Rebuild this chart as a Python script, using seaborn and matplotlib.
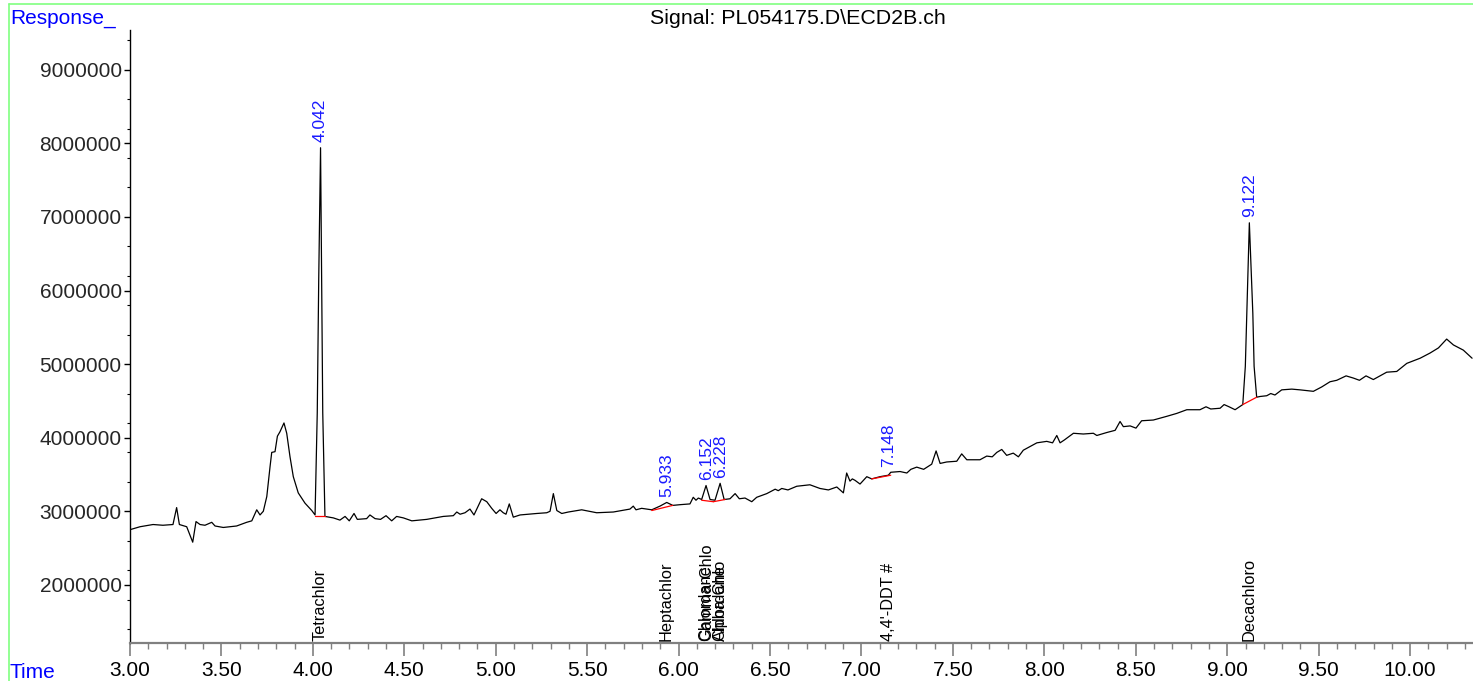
import numpy as np
import pandas as pd
import matplotlib
matplotlib.use("Agg")
import matplotlib.pyplot as plt
from matplotlib.ticker import MultipleLocator, FixedLocator, FuncFormatter
from matplotlib.lines import Line2D
import seaborn as sns

# ---------------- data ----------------
# retention time (min)
time_min = [
    3.000, 3.055, 3.126, 3.180, 3.235, 3.255, 3.270, 3.310, 3.343, 3.361,
    3.383, 3.410, 3.447, 3.465, 3.510, 3.583, 3.638, 3.666, 3.693, 3.711,
    3.729, 3.748, 3.766, 3.775, 3.793, 3.806, 3.820, 3.842, 3.857, 3.875,
    3.893, 3.920, 3.957, 3.994, 4.012, 4.024, 4.032, 4.042, 4.048, 4.054,
    4.066, 4.112, 4.148, 4.176, 4.199, 4.225, 4.243, 4.294, 4.312, 4.340,
    4.370, 4.400, 4.431, 4.458, 4.495, 4.541, 4.623, 4.713, 4.768, 4.787,
    4.805, 4.832, 4.859, 4.881, 4.923, 4.951, 4.978, 5.002, 5.023, 5.041,
    5.056, 5.074, 5.096, 5.133, 5.224, 5.279, 5.297, 5.315, 5.334, 5.361,
    5.397, 5.470, 5.552, 5.643, 5.734, 5.752, 5.767, 5.798, 5.853, 5.898,
    5.935, 5.968, 6.010, 6.062, 6.080, 6.095, 6.108, 6.126, 6.150, 6.172,
    6.199, 6.227, 6.249, 6.281, 6.309, 6.332, 6.363, 6.400, 6.427, 6.482,
    6.528, 6.545, 6.564, 6.598, 6.646, 6.718, 6.773, 6.819, 6.865, 6.901,
    6.919, 6.937, 6.950, 6.965, 6.992, 7.029, 7.056, 7.101, 7.147, 7.160,
    7.211, 7.248, 7.270, 7.302, 7.340, 7.384, 7.408, 7.430, 7.466, 7.521,
    7.548, 7.576, 7.648, 7.685, 7.715, 7.740, 7.767, 7.794, 7.830, 7.858,
    7.885, 7.922, 7.959, 8.013, 8.045, 8.068, 8.086, 8.110, 8.159, 8.213,
    8.268, 8.287, 8.341, 8.387, 8.414, 8.432, 8.469, 8.501, 8.532, 8.596,
    8.669, 8.724, 8.779, 8.851, 8.884, 8.910, 8.961, 8.983, 9.010, 9.043,
    9.085, 9.099, 9.107, 9.121, 9.140, 9.147, 9.161, 9.180, 9.216, 9.238,
    9.261, 9.298, 9.353, 9.398, 9.471, 9.517, 9.562, 9.599, 9.650, 9.690,
    9.723, 9.759, 9.799, 9.872, 9.927, 9.982, 10.055, 10.109, 10.155, 10.200,
    10.237, 10.291, 10.339,
]
# detector response (millions of counts)
response_m = [
    2.75, 2.79, 2.82, 2.81, 2.82, 3.05, 2.82, 2.79, 2.58, 2.86,
    2.82, 2.81, 2.85, 2.80, 2.78, 2.80, 2.85, 2.87, 3.02, 2.95,
    3.00, 3.20, 3.61, 3.80, 3.81, 4.02, 4.08, 4.20, 4.06, 3.74,
    3.47, 3.25, 3.11, 3.01, 2.95, 4.34, 6.15, 7.94, 6.15, 4.34,
    2.93, 2.91, 2.88, 2.93, 2.87, 2.97, 2.89, 2.90, 2.95, 2.90,
    2.89, 2.94, 2.87, 2.93, 2.91, 2.87, 2.89, 2.93, 2.94, 2.99,
    2.96, 2.98, 3.03, 2.95, 3.17, 3.13, 3.04, 2.97, 3.02, 2.98,
    2.96, 3.10, 2.92, 2.95, 2.97, 2.98, 3.00, 3.24, 3.01, 2.97,
    2.99, 3.02, 2.98, 2.99, 3.03, 3.07, 3.02, 3.04, 3.02, 3.07,
    3.12, 3.08, 3.09, 3.10, 3.19, 3.15, 3.18, 3.16, 3.35, 3.16,
    3.15, 3.38, 3.16, 3.17, 3.24, 3.17, 3.18, 3.13, 3.19, 3.24,
    3.30, 3.28, 3.31, 3.29, 3.34, 3.36, 3.31, 3.29, 3.33, 3.25,
    3.52, 3.41, 3.44, 3.42, 3.37, 3.47, 3.44, 3.47, 3.49, 3.53,
    3.54, 3.52, 3.57, 3.60, 3.57, 3.64, 3.82, 3.65, 3.67, 3.68,
    3.78, 3.70, 3.70, 3.75, 3.74, 3.80, 3.84, 3.76, 3.79, 3.74,
    3.83, 3.88, 3.93, 3.95, 3.93, 4.03, 3.93, 3.97, 4.06, 4.05,
    4.06, 4.03, 4.07, 4.10, 4.22, 4.15, 4.16, 4.13, 4.23, 4.24,
    4.29, 4.33, 4.38, 4.38, 4.42, 4.39, 4.40, 4.45, 4.42, 4.38,
    4.45, 4.97, 5.69, 6.92, 5.69, 4.97, 4.55, 4.56, 4.57, 4.60,
    4.58, 4.65, 4.66, 4.65, 4.63, 4.69, 4.76, 4.78, 4.84, 4.81,
    4.78, 4.84, 4.79, 4.89, 4.90, 5.01, 5.08, 5.15, 5.22, 5.34,
    5.26, 5.19, 5.08,
]

# integrated peaks: apex time, apex response (M), baseline start/end
peak_rt = [4.042, 5.933, 6.152, 6.228, 7.148, 9.122]
peak_apex_m = [7.94, 3.12, 3.35, 3.38, 3.53, 6.92]
base_t0 = [4.012, 5.853, 6.126, 6.190, 7.056, 9.085]
base_t1 = [4.066, 5.968, 6.190, 6.254, 7.160, 9.161]
base_v0 = [2.94, 3.01, 3.15, 3.13, 3.44, 4.45]
base_v1 = [2.94, 3.08, 3.13, 3.16, 3.49, 4.55]

# compound labels along the bottom
compound_names = ["Tetrachlor", "Heptachlor", "Gamma-Chlo", "Chlordane",
                  "Alpha-Chlo", "Chlordane", "4,4'-DDT #", "Decachloro"]
compound_rt = [4.042, 5.933, 6.152, 6.148, 6.228, 6.224, 7.148, 9.122]

x_ticks = [3.00, 3.50, 4.00, 4.50, 5.00, 5.50, 6.00, 6.50, 7.00, 7.50,
           8.00, 8.50, 9.00, 9.50, 10.00]
y_ticks = [2000000, 3000000, 4000000, 5000000, 6000000, 7000000,
           8000000, 9000000]
y_minor_ticks = [1400000, 1800000, 2200000, 2600000, 3400000, 3800000,
                 4200000, 4600000, 5400000, 5800000, 6200000, 6600000,
                 7400000, 7800000, 8200000, 8600000, 9400000]

# ---------------- style ----------------
sns.set_style("ticks")
plt.rcParams["font.family"] = ["Liberation Sans", "DejaVu Sans"]

W, H = 1473, 681
fig = plt.figure(figsize=(W / 100, H / 100), dpi=100)
ax = fig.add_axes([130 / W, 1 - 643 / H, 1 - 130 / W, (643 - 30) / H])

df = pd.DataFrame({"Time": time_min, "Response": np.array(response_m) * 1e6})
sns.lineplot(data=df, x="Time", y="Response", ax=ax, color="black",
             linewidth=0.9, estimator=None, sort=False)

for t0, t1, v0, v1 in zip(base_t0, base_t1, base_v0, base_v1):
    ax.plot([t0, t1], [v0 * 1e6, v1 * 1e6], color="red", linewidth=0.9)

for rt, ap in zip(peak_rt, peak_apex_m):
    ax.annotate(f"{rt:.3f}", xy=(rt, ap * 1e6), xytext=(0, 4),
                textcoords="offset points", rotation=90, ha="center",
                va="bottom", color="#1a1aff", fontsize=12.5)

for name, rt in zip(compound_names, compound_rt):
    ax.annotate(name, xy=(rt, 0), xycoords=ax.get_xaxis_transform(),
                xytext=(0, 2), textcoords="offset pixels", rotation=90,
                ha="center", va="bottom", color="black", fontsize=11.8)

ax.set_xlim(3.0, 10.344)
ax.set_ylim(1.21e6, 9.54e6)
ax.set_xticks(x_ticks)
ax.xaxis.set_major_formatter(FuncFormatter(lambda v, p: f"{v:.2f}"))
ax.xaxis.set_minor_locator(MultipleLocator(0.1))
ax.set_yticks(y_ticks)
ax.yaxis.set_major_formatter(FuncFormatter(lambda v, p: f"{int(round(v))}"))
ax.yaxis.set_minor_locator(FixedLocator(y_minor_ticks))
ax.set_xlabel("")
ax.set_ylabel("")

sns.despine(ax=ax, top=True, right=True)
ax.spines["left"].set_color("black")
ax.spines["left"].set_linewidth(1.0)
ax.spines["bottom"].set_color("#808080")
ax.spines["bottom"].set_linewidth(1.6)
ax.tick_params(axis="x", which="major", length=9, width=1.2, color="#808080",
               labelsize=15, pad=4, labelcolor="black")
ax.tick_params(axis="x", which="minor", length=4, width=1.0, color="#808080")
ax.tick_params(axis="y", which="major", length=4, width=1.0, color="black",
               labelsize=15, pad=2)
ax.tick_params(axis="y", which="minor", length=2.5, width=0.8, color="black")

fig.text(10 / W, 1 - 18 / H, "Response_", color="#0000ff", fontsize=15,
         ha="left", va="center")
fig.text(10 / W, 1 - 672 / H, "Time", color="#0000ff", fontsize=15,
         ha="left", va="center")
fig.text(798 / W, 1 - 18 / H, "Signal: PL054175.D\\ECD2B.ch", color="black",
         fontsize=15.4, ha="center", va="center")

fig.add_artist(Line2D([8.5 / W, 1], [1 - 3.5 / H, 1 - 3.5 / H],
                      color="#80ff80", linewidth=1.2,
                      transform=fig.transFigure))
fig.add_artist(Line2D([8.5 / W, 8.5 / W], [0, 1 - 3.5 / H],
                      color="#80ff80", linewidth=1.2,
                      transform=fig.transFigure))

fig.savefig("out.png", dpi=100)
